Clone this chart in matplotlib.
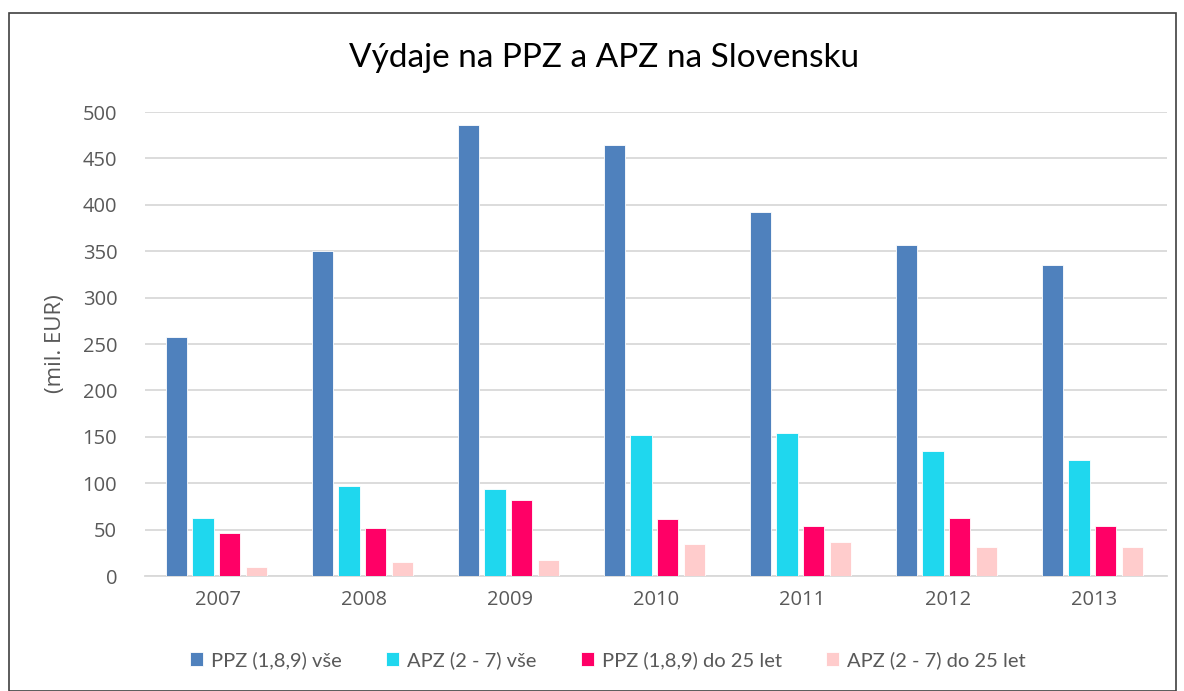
import matplotlib
matplotlib.use("Agg")
import matplotlib.pyplot as plt
from matplotlib.patches import Rectangle
import numpy as np

years = ["2007", "2008", "2009", "2010", "2011", "2012", "2013"]
ppz_all = [258, 350, 486, 464, 392, 357, 335]
apz_all = [63, 97, 94, 152, 154, 135, 125]
ppz_25 = [46, 52, 82, 61, 54, 63, 54]
apz_25 = [10, 15, 17, 35, 37, 31, 31]
yticks = list(range(0, 501, 50))

series = [
    ("PPZ (1,8,9) vše", ppz_all, "#4F81BD"),
    ("APZ (2 - 7) vše", apz_all, "#1FD7EE"),
    ("PPZ (1,8,9) do 25 let", ppz_25, "#FF0066"),
    ("APZ (2 - 7) do 25 let", apz_25, "#FFCCCC"),
]

plt.rcParams['font.family'] = ['Lato', 'DejaVu Sans']
tickfam = ['Open Sans', 'DejaVu Sans']

fig = plt.figure(figsize=(11.84, 6.91), dpi=100)
ax = fig.add_axes([145/1184, 1 - 576/691, (1167-145)/1184, (576-112)/691])

x = np.arange(len(years))
step = 0.182
width = 0.145
for i, (name, vals, col) in enumerate(series):
    ax.bar(x + (i - 1.5) * step - 0.012, vals, width=width, color=col, label=name,
           edgecolor="white", linewidth=0.6, zorder=3)

ax.set_xlim(-0.5, len(years) - 0.5)
ax.set_ylim(0, 500)
ax.set_yticks(yticks, labels=[str(v) for v in yticks], family=tickfam)
ax.set_xticks(x, labels=years, family=tickfam)
ax.yaxis.grid(True, color="#D9D9D9", linewidth=1.3, zorder=0)
ax.set_axisbelow(True)
for s in ["top", "right", "left"]:
    ax.spines[s].set_visible(False)
ax.spines["bottom"].set_color("#D9D9D9")
ax.spines["bottom"].set_linewidth(1.3)
ax.tick_params(axis="both", length=0, labelsize=14.5, labelcolor="#595959")
ax.tick_params(axis="y", pad=20)
ax.tick_params(axis="x", pad=10)

ax.set_ylabel("(mil. EUR)", fontsize=16, color="#595959", labelpad=12,
              family=tickfam)

fig.text(604/1184, 1 - 58/691, "Výdaje na PPZ a APZ na Slovensku", ha="center",
         va="center", fontsize=24, color="#000000")

leg = fig.legend(loc="center", bbox_to_anchor=(608/1184, 1 - 660/691), ncol=4,
                 frameon=False, fontsize=14.5, handlelength=0.65, handleheight=0.65,
                 handletextpad=0.4, columnspacing=2.2)
for t in leg.get_texts():
    t.set_color("#595959")

fig.patches.append(Rectangle((9/1184, 0), (1176-9)/1184, 1 - 13/691,
                             transform=fig.transFigure, fill=False,
                             edgecolor="#404040", linewidth=1.2))

fig.savefig("out.png", dpi=100)
